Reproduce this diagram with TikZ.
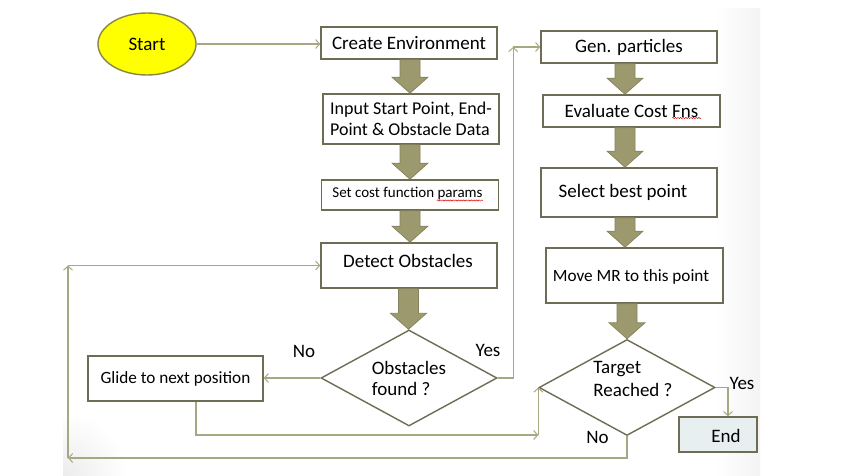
\documentclass[tikz,border=0pt]{standalone}
\usepackage{fontspec}
\setmainfont{Carlito}
\usetikzlibrary{shapes.geometric,arrows.meta,calc,decorations.pathmorphing}
\definecolor{boxline}{HTML}{6E6C55}
\definecolor{connc}{HTML}{A8A784}
\definecolor{olivef}{HTML}{9B996D}
\definecolor{oliveb}{HTML}{85835B}
\definecolor{endfill}{HTML}{E8EFF1}
\definecolor{startline}{HTML}{8A8745}
\definecolor{startfill}{HTML}{FFFF00}
\newcommand\fs[2]{\fontsize{#1}{#2}\selectfont}
\tikzset{
  box/.style={draw=boxline, line width=1.6pt, fill=white, rectangle, inner sep=0pt, align=center},
  dia/.style={draw=boxline, line width=1.4pt, fill=white, diamond, aspect=1.83, inner sep=0pt,
              minimum width=176pt, minimum height=96pt, align=left},
  txt/.style={inner sep=0pt, align=left},
  conn/.style={draw=connc, line width=1.2pt, -{Straight Barb[length=4pt,width=9pt,line width=1pt]}},
  blk/.style={fill=olivef, draw=oliveb, line width=0.7pt, line join=miter},
  wavy/.style={draw=red!85!black, line width=0.5pt, decorate, decoration={snake, amplitude=0.6pt, segment length=2.6pt}},
  lbl/.style={inner sep=0pt, font=\fs{19}{22}}
}
\newcommand\blockarr[3]{%
  \path[blk] let \p1=(#1.south), \p2=(#2.north) in
    ({(#3-10)*1pt},\y1) -- ({(#3+10)*1pt},\y1) -- ({(#3+10)*1pt},{\y2+16pt}) --
    ({(#3+18)*1pt},{\y2+16pt}) -- ({#3*1pt},\y2) -- ({(#3-18)*1pt},{\y2+16pt}) --
    ({(#3-10)*1pt},{\y2+16pt}) -- cycle;}
\begin{document}
\begin{tikzpicture}[x=1pt,y=-1pt]
\useasboundingbox (0,0) rectangle (857,476);
\fill[white] (0,0) rectangle (857,476);
\begin{scope}
  \clip (63,9) rectangle (760,476);
  \shade[left color=white, right color=gray!9] (715,9) rectangle (760,476);
  \shade[inner color=gray!15, outer color=white] (63,476) circle (65);
\end{scope}

% nodes
\node[ellipse, draw=startline, line width=1.4pt, fill=startfill, minimum width=98pt, minimum height=62pt, inner sep=0pt, font=\fs{19}{22}] (start) at (147,44) {Start};
\node[box, minimum width=176pt, minimum height=32pt, font=\fs{19}{22}] (create) at (409,43) {Create Environment};
\node[box, minimum width=176pt, minimum height=50pt, font=\fs{18}{21}, align=left] (input) at (411,119) {Input Start Point, End-\\Point \& Obstacle Data};
\node[box, minimum width=177pt, minimum height=30pt, font=\fs{15}{18}] (setcost) at (410,195) {};
\node[txt, font=\fs{15}{18}] (tsetcost) at (407.5,194) {Set cost function params};
\node[box, minimum width=176pt, minimum height=45pt] (detect) at (409,265.5) {};
\node[txt, font=\fs{19}{22}] (tdetect) at (408,261) {Detect Obstacles};
\node[dia, font=\fs{19}{21}] (obst) at (409,378) {Obstacles\\found ?};
\node[box, minimum width=175pt, minimum height=45pt, font=\fs{17.2}{20}] (glide) at (175.5,378.5) {Glide to next position};

\node[box, minimum width=176pt, minimum height=32pt, font=\fs{19}{22}] (gen) at (629,47) {Gen. particles};
\node[box, minimum width=177pt, minimum height=32pt, font=\fs{19}{22}] (eval) at (631.5,111) {Evaluate Cost Fns};
\node[box, minimum width=176pt, minimum height=49pt] (select) at (629,192.5) {};
\node[txt, font=\fs{19}{22}] (tselect) at (623,192) {Select best point};
\node[box, minimum width=177pt, minimum height=55pt] (move) at (634.5,275.5) {};
\node[txt, font=\fs{17.2}{20}] (tmove) at (631,277) {Move MR to this point};
\node[dia] (target) at (627,387.5) {};
\node[txt, font=\fs{19}{23}] (ttarget) at (633,378.5) {Target\\Reached ?};
\node[box, fill=endfill, minimum width=78pt, minimum height=35pt] (end) at (718,434.5) {};
\node[txt, font=\fs{19}{22}] (tend) at (726,436) {End};

% spell-check underlines
\draw[wavy] ([xshift=-46pt,yshift=-2.5pt]tsetcost.base east) -- ([yshift=-2.5pt]tsetcost.base east);
\draw[wavy] (672,118) -- (701,118);

% labels
\node[lbl] (lno1) at (304,351) {No};
\node[lbl] (lyes1) at (488,350) {Yes};
\node[lbl] (lyes2) at (742,383) {Yes};
\node[lbl] (lno2) at (597.5,437) {No};

% block arrows
\blockarr{create}{input}{410}
\blockarr{input}{setcost}{410}
\blockarr{setcost}{detect}{410}
\blockarr{detect}{obst}{408.5}
\blockarr{gen}{eval}{625}
\blockarr{eval}{select}{625}
\blockarr{select}{move}{625}
\blockarr{move}{target}{627}

% helper coordinates
\coordinate (c1) at (target.west |- 0,435);
\coordinate (c2) at ([xshift=-27pt]gen.west);
\coordinate (c3) at (68,458);
\coordinate (c4) at (68,265.5);

% connectors
\draw[conn] (start.east) -- (start.east -| create.west);
\draw[conn] (obst.west) -- (obst.west -| glide.east);
\draw[conn] ([xshift=20.5pt]glide.south) |- (c1);
\draw[conn] (c1) -- (target.west);
\draw[conn] (obst.east) -| (c2);
\draw[conn] (c2) -- (gen.west);
\draw[conn] (target.east) -| ([xshift=10pt]end.north);
\draw[conn] (target.south) |- (c3);
\draw[conn] (c3) -- (c4);
\draw[conn] (c4) -- (detect.west);
\end{tikzpicture}
\end{document}
